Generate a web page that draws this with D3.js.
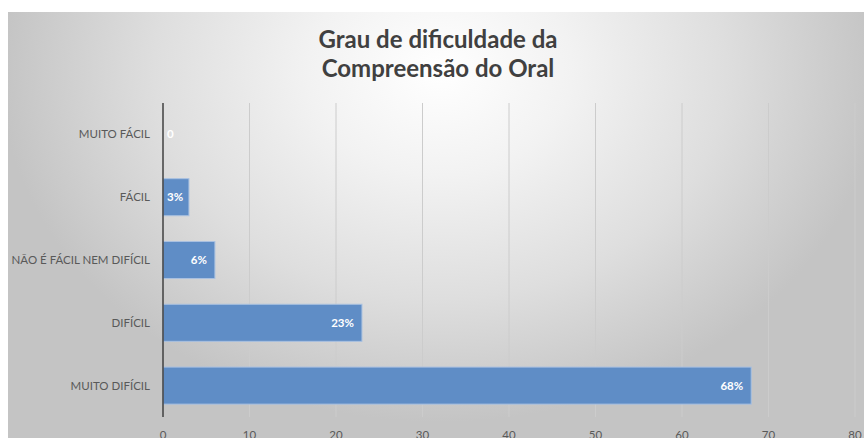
<!DOCTYPE html>
<html>
<head>
<meta charset="utf-8">
<script src="https://cdn.jsdelivr.net/npm/d3@7"></script>
<style>
  html, body { margin: 0; padding: 0; background: #ffffff; }
  svg { display: block; font-family: Lato, "Open Sans", sans-serif; }
</style>
</head>
<body>
<svg id="chart"></svg>
<script>
// *************** DATA ***************
const categories = ["MUITO FÁCIL", "FÁCIL", "NÃO É FÁCIL NEM DIFÍCIL", "DIFÍCIL", "MUITO DIFÍCIL"];
const values = [0, 3, 6, 23, 68];
const valueLabels = ["0", "3%", "6%", "23%", "68%"];
const xTicks = [0, 10, 20, 30, 40, 50, 60, 70, 80];
const titleLines = ["Grau de dificuldade da", "Compreensão do Oral"];

// *************** CONSTANTS ***************
const width = 864,
      height = 438;

const margin = { top: 103, right: 9, bottom: 21, left: 163 };

const svg = d3.select("#chart")
              .attr("width", width)
              .attr("height", height);

const x = d3.scaleLinear()
            .domain([0, 80])
            .range([margin.left, width - margin.right]);

const y = d3.scaleBand()
            .domain(categories)
            .range([margin.top, height - margin.bottom])
            .paddingInner(0.41)
            .paddingOuter(0.205);

// *************** BACKGROUND ***************
const defs = svg.append("defs");

const bg = defs.append("radialGradient")
               .attr("id", "bgGradient")
               .attr("gradientUnits", "userSpaceOnUse")
               .attr("cx", 440)
               .attr("cy", 70)
               .attr("r", 440)
               .attr("gradientTransform", "translate(440,70) scale(1,0.8) translate(-440,-70)");

bg.append("stop").attr("offset", "0%").attr("stop-color", "#ffffff");
bg.append("stop").attr("offset", "30%").attr("stop-color", "#f2f2f2");
bg.append("stop").attr("offset", "65%").attr("stop-color", "#dedede");
bg.append("stop").attr("offset", "100%").attr("stop-color", "#c4c4c4");

svg.append("rect")
   .attr("x", 8)
   .attr("y", 12)
   .attr("width", width - 8)
   .attr("height", height - 12)
   .attr("fill", "url(#bgGradient)");

// *************** TITLE ***************
svg.append("g")
   .selectAll("text")
   .data(titleLines)
   .join("text")
   .attr("x", 438)
   .attr("y", (d, i) => 48 + i * 29)
   .attr("text-anchor", "middle")
   .attr("font-weight", "700")
   .attr("font-size", "24px")
   .attr("fill", "#404040")
   .text(d => d);

// *************** GRID ***************
svg.append("g")
   .selectAll("line")
   .data(xTicks.slice(1))
   .join("line")
   .attr("x1", d => x(d))
   .attr("x2", d => x(d))
   .attr("y1", margin.top)
   .attr("y2", height - margin.bottom)
   .attr("stroke", "#cccccc")
   .attr("stroke-width", 1);

// *************** BARS ***************
svg.append("g")
   .selectAll("rect")
   .data(values)
   .join("rect")
   .attr("x", x(0))
   .attr("y", (d, i) => y(categories[i]))
   .attr("width", d => x(d) - x(0))
   .attr("height", y.bandwidth())
   .attr("fill", "#5f8dc6")
   .attr("stroke", "#a9c1e1")
   .attr("stroke-width", d => d > 0 ? 1 : 0);

// value labels
svg.append("g")
   .selectAll("text")
   .data(values)
   .join("text")
   .attr("y", (d, i) => y(categories[i]) + y.bandwidth() / 2)
   .attr("dy", "0.35em")
   .attr("text-anchor", "end")
   .attr("font-weight", "700")
   .attr("font-size", "11.5px")
   .attr("fill", "#ffffff")
   .text((d, i) => valueLabels[i])
   .attr("x", function(d) {
     const w = this.getComputedTextLength();
     return Math.max(x(d) - 8, x(0) + 4 + w);
   });

// *************** AXES ***************
svg.append("line")
   .attr("x1", x(0))
   .attr("x2", x(0))
   .attr("y1", margin.top)
   .attr("y2", height - margin.bottom)
   .attr("stroke", "#404040")
   .attr("stroke-width", 1.5);

svg.append("g")
   .selectAll("text")
   .data(categories)
   .join("text")
   .attr("x", x(0) - 13)
   .attr("y", d => y(d) + y.bandwidth() / 2)
   .attr("dy", "0.35em")
   .attr("text-anchor", "end")
   .attr("font-size", "11.5px")
   .attr("fill", "#595959")
   .text(d => d);

svg.append("g")
   .selectAll("text")
   .data(xTicks)
   .join("text")
   .attr("x", d => x(d))
   .attr("y", 439)
   .attr("text-anchor", "middle")
   .attr("font-size", "11.5px")
   .attr("fill", "#595959")
   .text(d => d);
</script>
</body>
</html>
